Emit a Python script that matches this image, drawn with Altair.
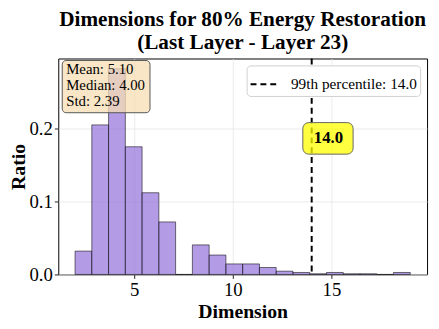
import altair as alt
import pandas as pd

# ---- data ----
bin_starts = [2.00, 2.85, 3.70, 4.55, 5.40, 6.25, 7.10, 7.95, 8.80, 9.65,
              10.50, 11.35, 12.20, 13.05, 13.90, 14.75, 15.60, 16.45, 17.30, 18.15]
bin_width = 0.85
ratios = [0.032, 0.205, 0.282, 0.175, 0.112, 0.072, 0.0, 0.0405, 0.0266, 0.0144,
          0.0144, 0.0095, 0.0045, 0.0027, 0.0009, 0.0027, 0.0009, 0.0009, 0.0, 0.0027]
p99 = 14.0
stats_text_str = "Mean: 5.10\nMedian: 4.00\nStd: 2.39"
legend_label = "99th percentile: 14.0"
title_lines = ["Dimensions for 80% Energy Restoration", "(Last Layer - Layer 23)"]
x_ticks = [5, 10, 15]
y_ticks = [0.0, 0.1, 0.2]

FONT = "Liberation Serif"
W, H = 374, 219

bars_df = pd.DataFrame({
    "start": bin_starts,
    "end": [b + bin_width for b in bin_starts],
    "ratio": ratios,
})

xscale = alt.Scale(domain=[1.15, 19.85], nice=False, zero=False)
yscale = alt.Scale(domain=[0, 0.296], nice=False)

bars = alt.Chart(bars_df).mark_rect(
    fill="#9370DB", fillOpacity=0.7, stroke="black", strokeOpacity=0.55, strokeWidth=1
).encode(
    x=alt.X("start:Q", scale=xscale,
            axis=alt.Axis(title="Dimension", values=x_ticks, format="d",
                          labelPadding=2, titleY=37.5, titleBaseline="middle")),
    x2="end:Q",
    y=alt.Y("ratio:Q", scale=yscale,
            axis=alt.Axis(title="Ratio", values=y_ticks, format=".1f",
                          titleX=-40, titleY=H / 2, titleBaseline="middle",
                          titleAngle=270)),
    y2=alt.datum(0),
)

rule_df = pd.DataFrame({"x": [p99], "label": [legend_label]})
rule = alt.Chart(rule_df).mark_rule(color="black", strokeWidth=2).encode(
    x=alt.X("x:Q", scale=xscale),
    strokeDash=alt.StrokeDash(
        "label:N",
        scale=alt.Scale(range=[[6, 4]]),
        legend=alt.Legend(orient="top-right", title=None, fillColor="white",
                          strokeColor="#d0d0d0", cornerRadius=4, padding=3,
                          offset=7, symbolType="stroke", symbolSize=900,
                          symbolStrokeWidth=2, symbolStrokeColor="black",
                          labelFont=FONT, labelFontSize=15.5, labelColor="black",
                          labelOffset=10),
    ),
)

one = pd.DataFrame({"k": [0]})

stats_box = alt.Chart(one).mark_rect(
    fill="wheat", fillOpacity=0.75, stroke="#555", strokeWidth=1, cornerRadius=4
).encode(x=alt.value(4), x2=alt.value(93), y=alt.value(2), y2=alt.value(55))

stats_text = alt.Chart(pd.DataFrame({"t": [stats_text_str]})).mark_text(
    font=FONT, fontSize=15, align="left", baseline="top", color="black",
    lineBreak="\n", lineHeight=16
).encode(text="t:N", x=alt.value(8), y=alt.value(4))

p_box = alt.Chart(one).mark_rect(
    fill="yellow", fillOpacity=0.75, stroke="#666", strokeWidth=1, cornerRadius=6
).encode(x=alt.value(248), x2=alt.value(299), y=alt.value(65), y2=alt.value(97))

p_text = alt.Chart(pd.DataFrame({"t": [f"{p99:.1f}"]})).mark_text(
    font=FONT, fontSize=17, fontWeight="bold", align="center", baseline="middle", color="black"
).encode(text="t:N", x=alt.value(274), y=alt.value(81))

chart = alt.layer(bars, rule, stats_box, stats_text, p_box, p_text).properties(
    width=W, height=H,
    title=alt.TitleParams(text=title_lines, anchor="middle", offset=4, lineHeight=23),
    autosize=alt.AutoSizeParams(type="none"),
    padding={"left": 51, "top": 49, "right": 4, "bottom": 45},
).configure_view(
    stroke="black", strokeWidth=1
).configure_title(
    font=FONT, fontSize=21.5, fontWeight="bold", color="black"
).configure_axis(
    grid=True, gridColor="#e6e6e6", gridWidth=0.8,
    domain=False, tickColor="#222", tickSize=4,
    labelFont=FONT, labelFontSize=19, labelColor="black", labelPadding=2,
    titleFont=FONT, titleFontSize=20, titleFontWeight="bold", titleColor="black",
)

chart.save("out.html", embed_options={"renderer": "svg", "actions": False})
